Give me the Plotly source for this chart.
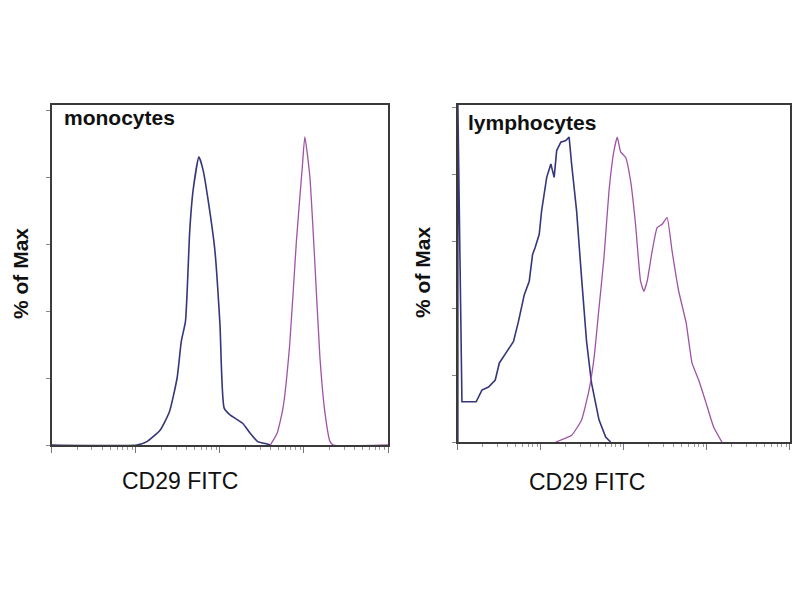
import plotly.graph_objects as go

# ---- data: CD29 FITC intensity (log scale) vs % of Max ----
mono_iso_x = [10, 102, 135, 195, 251, 309, 347, 389, 437, 479, 562, 631, 724, 871, 1000,
              1122, 1318, 1622, 1862, 2291, 2818, 3631, 4000]
mono_iso_y = [0, 0, 1, 4.5, 10, 20, 31, 37, 64, 76, 86, 82, 73, 58, 36,
              11, 9, 7.5, 6.5, 3.5, 1, 0.3, 0]

mono_cd29_x = [3981, 4786, 5623, 6761, 8128, 9550, 10233, 11749, 13490, 15488, 17783,
               20417, 22387, 100000]
mono_cd29_y = [0, 3.5, 11, 30, 61, 83, 92, 80, 54, 26, 9.5, 1, 0, 0]

lymph_iso_x = [10, 10, 11.2, 16.6, 19.5, 23.4, 28.2, 31.6, 38, 46.8, 53.7, 63.1, 72.4, 79.4,
               85.1, 95.5, 102, 117.5, 131.8, 144.5, 154.9, 173.8, 199.5, 218.8, 234.4,
               269.2, 309, 354.8, 407.4, 501, 602.6, 691.8]
lymph_iso_y = [0, 101, 12, 12, 15.5, 16.4, 18.5, 23.6, 26.6, 30, 36, 44, 48, 56,
               58, 62, 69, 79, 83, 79, 87, 89.5, 90, 91, 83,
               69, 49, 30, 17.6, 6.6, 1.5, 0]

lymph_cd29_x = [151.4, 234.4, 309, 380, 436.5, 501, 575, 661, 759, 832, 912, 1047, 1202,
                1380, 1585, 1738, 1905, 2188, 2512, 2884, 3311, 3802, 4571, 5623, 6607,
                7943, 9772, 12023, 15136]
lymph_cd29_y = [0, 2, 6.6, 15.5, 25, 40, 55, 75, 87, 91, 86.6, 85, 78,
                65, 48, 45, 48, 57, 64, 65, 67, 57, 45, 35.5, 23.6,
                18.5, 11.6, 4.5, 0]

panel_titles = ["monocytes", "lymphocytes"]
x_title = "CD29 FITC"
y_title = "% of Max"
y_ticks = [0, 20, 40, 60, 80, 100]
major_x_ticks = [10, 100, 1000, 10000, 100000]
minor_x_ticks = [m * 10 ** k for k in range(1, 5) for m in range(2, 10)]

BLUE = "#36367a"
MAG = "#a052a6"

fig = go.Figure()
fig.add_trace(go.Scatter(x=mono_iso_x, y=mono_iso_y, mode="lines",
                         line=dict(color=BLUE, width=1.6, shape="spline", smoothing=0.5),
                         xaxis="x", yaxis="y"))
fig.add_trace(go.Scatter(x=mono_cd29_x, y=mono_cd29_y, mode="lines",
                         line=dict(color=MAG, width=1.3, shape="spline", smoothing=0.5),
                         xaxis="x", yaxis="y"))
fig.add_trace(go.Scatter(x=lymph_iso_x, y=lymph_iso_y, mode="lines",
                         line=dict(color=BLUE, width=1.6), xaxis="x2", yaxis="y2"))
fig.add_trace(go.Scatter(x=lymph_cd29_x, y=lymph_cd29_y, mode="lines",
                         line=dict(color=MAG, width=1.3, shape="spline", smoothing=0.4),
                         xaxis="x2", yaxis="y2"))

# page has an 8px body margin; figure occupies 784x584 starting at (8, 8)
OFF = 8
W, H = 800 - 2 * OFF, 600 - 2 * OFF

def px(x):
    return (x - OFF) / W

def py(y):
    return 1 - (y - OFF) / H

def xax(d0, d1):
    return dict(type="log", range=[1, 5], domain=[d0, d1], showgrid=False, zeroline=False,
                showline=True, linecolor="#3a3a3a", linewidth=1.5, mirror=True,
                ticks="outside", ticklen=6, tickcolor="#777", tickwidth=1,
                tickmode="array", tickvals=major_x_ticks, showticklabels=False,
                minor=dict(tickmode="array", tickvals=minor_x_ticks, ticks="outside",
                           ticklen=3, tickcolor="#999", tickwidth=1))

def yax(d0, d1, top, anchor):
    return dict(range=[0, top], domain=[d0, d1], showgrid=False, zeroline=False,
                showline=True, linecolor="#3a3a3a", linewidth=1.5, mirror=True,
                ticks="outside", ticklen=4, tickcolor="#888", tickwidth=1,
                tickmode="array", tickvals=y_ticks, showticklabels=False, anchor=anchor)

fig.update_layout(
    width=W, height=H, margin=dict(l=0, r=0, t=0, b=0),
    paper_bgcolor="white", plot_bgcolor="white", showlegend=False,
    xaxis=dict(**xax(px(52), px(389)), anchor="y"),
    yaxis=yax(py(445), py(105), 101.5, "x"),
    xaxis2=dict(**xax(px(459), px(792)), anchor="y2"),
    yaxis2=yax(py(442), py(105), 100.6, "x2"),
)

font_b = "Liberation Sans, Arial, sans-serif"
ann = []
ann.append(dict(text="<b>%s</b>" % panel_titles[0], x=px(62), y=py(118), xref="paper", yref="paper",
                xanchor="left", yanchor="middle", showarrow=False,
                font=dict(family=font_b, size=21, color="#111")))
ann.append(dict(text="<b>%s</b>" % panel_titles[1], x=px(467), y=py(122), xref="paper", yref="paper",
                xanchor="left", yanchor="middle", showarrow=False,
                font=dict(family=font_b, size=21, color="#111")))
for cx, cy in [(20, 273), (423, 272)]:
    ann.append(dict(text="<b>%s</b>" % y_title, x=px(cx), y=py(cy), xref="paper", yref="paper",
                    xanchor="center", yanchor="middle", showarrow=False, textangle=-90,
                    font=dict(family=font_b, size=21, color="#111")))
for cx, cy in [(180, 481), (588, 482)]:
    ann.append(dict(text=x_title, x=px(cx), y=py(cy), xref="paper", yref="paper",
                    xanchor="center", yanchor="middle", showarrow=False,
                    font=dict(family=font_b, size=23, color="#111")))
fig.update_layout(annotations=ann)

fig.write_html("out.html")
